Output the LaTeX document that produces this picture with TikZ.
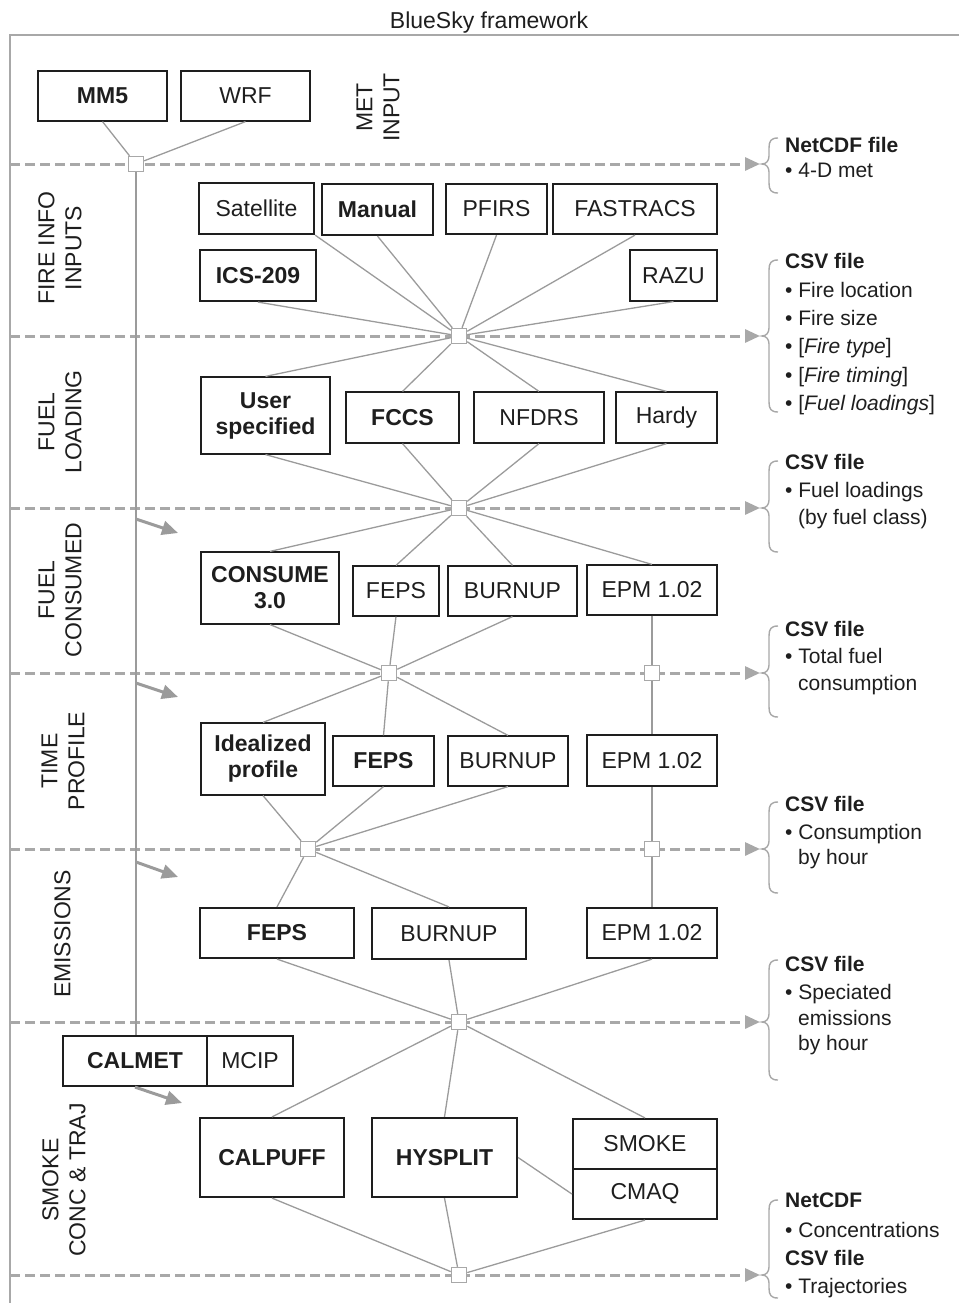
\documentclass[tikz,border=0pt]{standalone}
\usepackage{fontspec}
\setmainfont{Liberation Sans}
\usetikzlibrary{arrows.meta}
\definecolor{lg}{HTML}{9B9B9B}
\definecolor{dg}{HTML}{A8A8A8}
\definecolor{bk}{HTML}{1E1E1E}
\begin{document}
\begin{tikzpicture}[x=1pt,y=-1pt,
 bx/.style={draw=bk, line width=1.2pt, inner sep=0pt, align=center, text=bk, font=\fontsize{23}{26}\selectfont},
 thk/.style={line width=2.2pt},
 bld/.style={font=\fontsize{23}{26}\selectfont\bfseries},
 sz/.style 2 args={minimum width=#1pt, minimum height=#2pt},
 junc/.style={draw=dg, fill=white, line width=1.5pt, minimum size=15pt, inner sep=0pt},
 conn/.style={draw=lg, line width=1.3pt},
 dline/.style={draw=dg, line width=3pt, dash pattern=on 10pt off 5pt, -{Triangle[length=15pt,width=13pt]}},
 darr/.style={draw=lg, line width=3pt, -{Triangle[length=16pt,width=14pt]}},
 brc/.style={draw=dg, line width=1.4pt},
 lbl/.style={rotate=90, align=center, text=bk, font=\fontsize{23}{27}\selectfont, inner sep=0pt},
 rt/.style={anchor=base west, inner sep=0pt, text=bk, font=\fontsize{21}{25}\selectfont},
 rtb/.style={rt, font=\fontsize{21}{25}\selectfont\bfseries},
]
\useasboundingbox (0,0) rectangle (959,1303);
% frame
\draw[draw=dg, line width=1.5pt] (959,35) -- (10,35) -- (10,1303);
\node[anchor=base, inner sep=0pt, text=bk, font=\fontsize{23}{26}\selectfont] (title) at (489,29) {BlueSky framework};

% dashed lines
\foreach \y/\n in {164/1,336/2,508/3,673/4,849/5,1022/6,1275/7}{
  \coordinate (dl\n) at (10,\y);
  \coordinate (dr\n) at (760,\y);
  \draw[dline] (dl\n) -- (dr\n);
}
% braces
\foreach \t/\m/\b in {138/164/193, 260/336/412, 461/508/552, 626/673/717, 802/849/893, 960/1022/1080, 1200/1275/1298}{
  \draw[brc] (778,\t) .. controls (771,\t) and (769,\t+3) .. (769,\t+10) -- (769,\m-8) .. controls (769,\m-3) and (766,\m) .. (762,\m) .. controls (766,\m) and (769,\m+3) .. (769,\m+8) -- (769,\b-10) .. controls (769,\b-3) and (771,\b) .. (778,\b);
}

% section labels
\node[lbl] (lmet) at (378,107.5) {MET\\INPUT};
\node[lbl] (lfire) at (60,248) {FIRE INFO\\INPUTS};
\node[lbl] (lload) at (60,422) {FUEL\\LOADING};
\node[lbl] (lcons) at (60,590) {FUEL\\CONSUMED};
\node[lbl] (ltime) at (63,761) {TIME\\PROFILE};
\node[lbl] (lemis) at (62.5,934) {EMISSIONS};
\node[lbl] (lsmoke) at (64,1180) {SMOKE\\CONC \& TRAJ};

% boxes
\node[bx,bld,sz={129}{50}] (mm5) at (102.5,96) {MM5};
\node[bx,sz={129}{50}] (wrf) at (245.5,96) {WRF};
\node[bx,thk,sz={115}{51}] (sat) at (256.5,208.5) {Satellite};
\node[bx,thk,bld,sz={111}{51}] (man) at (377.5,209.5) {Manual};
\node[bx,thk,sz={101}{50}] (pfi) at (496.5,209) {PFIRS};
\node[bx,thk,sz={164}{50}] (fas) at (635,209) {FASTRACS};
\node[bx,thk,bld,sz={116}{51}] (ics) at (258,275.5) {ICS-209};
\node[bx,sz={87}{51}] (raz) at (673.5,275.5) {RAZU};
\node[bx,bld,sz={129}{77}] (usr) at (265.5,415.5) {User\\specified};
\node[bx,bld,sz={113}{51}] (fcc) at (402.5,417.5) {FCCS};
\node[bx,sz={130}{51}] (nfd) at (539,417.5) {NFDRS};
\node[bx,sz={101}{51}] (har) at (666.5,417.5) {Hardy};
\node[bx,bld,sz={138}{72}] (con) at (270,588) {CONSUME\\3.0};
\node[bx,sz={86}{50}] (fep1) at (396,591) {FEPS};
\node[bx,sz={129}{50}] (bur1) at (512.5,591) {BURNUP};
\node[bx,sz={130}{50}] (epm1) at (652,590) {EPM 1.02};
\node[bx,bld,sz={124}{72}] (ide) at (263,759) {Idealized\\profile};
\node[bx,bld,sz={101}{50}] (fep2) at (383.5,761) {FEPS};
\node[bx,sz={120}{50}] (bur2) at (508,761) {BURNUP};
\node[bx,thk,sz={130}{51}] (epm2) at (652,760.5) {EPM 1.02};
\node[bx,thk,bld,sz={154}{50}] (fep3) at (277,933) {FEPS};
\node[bx,thk,sz={154}{51}] (bur3) at (449,933.5) {BURNUP};
\node[bx,thk,sz={130}{50}] (epm3) at (652,933) {EPM 1.02};
\node[bx,thk,bld,sz={144}{50}] (calm) at (135,1061) {CALMET};
\node[bx,thk,sz={86}{50}] (mcip) at (250,1061) {MCIP};
\node[bx,thk,bld,sz={144}{79}] (calp) at (272,1157.5) {CALPUFF};
\node[bx,thk,bld,sz={145}{79}] (hys) at (444.5,1157.5) {HYSPLIT};
\node[bx,thk,sz={144}{50}] (smk) at (645,1144) {SMOKE};
\node[bx,thk,sz={144}{50}] (cmaq) at (645,1194) {CMAQ};

% junctions
\node[junc] (j0) at (136,164) {};
\node[junc] (j1) at (459,336) {};
\node[junc] (j2) at (459,508) {};
\node[junc] (j3) at (389,673) {};
\node[junc] (j3b) at (652,673) {};
\node[junc] (j4) at (308,849) {};
\node[junc] (j4b) at (652,849) {};
\node[junc] (j5) at (459,1022) {};
\node[junc] (j6) at (459,1275) {};

% connectors
\draw[conn] (mm5.south) -- (j0);
\draw[conn] (wrf.south) -- (j0);
\draw[conn] (j0) -- (j0 |- calm.north);
\draw[conn] (sat.south east) -- (j1);
\draw[conn] (man.south) -- (j1);
\draw[conn] (pfi.south) -- (j1);
\draw[conn] (fas.south) -- (j1);
\draw[conn] (ics.south) -- (j1);
\draw[conn] (raz.south) -- (j1);
\draw[conn] (j1) -- (usr.north);
\draw[conn] (j1) -- (fcc.north);
\draw[conn] (j1) -- (nfd.north);
\draw[conn] (j1) -- (har.north);
\draw[conn] (usr.south) -- (j2);
\draw[conn] (fcc.south) -- (j2);
\draw[conn] (nfd.south) -- (j2);
\draw[conn] (har.south) -- (j2);
\draw[conn] (j2) -- (con.north);
\draw[conn] (j2) -- (fep1.north);
\draw[conn] (j2) -- (bur1.north);
\draw[conn] (j2) -- (epm1.north);
\draw[conn] (con.south) -- (j3);
\draw[conn] (fep1.south) -- (j3);
\draw[conn] (bur1.south) -- (j3);
\draw[conn] (epm1) -- (j3b);
\draw[conn] (j3) -- (ide.north);
\draw[conn] (j3) -- (fep2.north);
\draw[conn] (j3) -- (bur2.north);
\draw[conn] (j3b) -- (epm2);
\draw[conn] (ide.south) -- (j4);
\draw[conn] (fep2.south) -- (j4);
\draw[conn] (bur2.south) -- (j4);
\draw[conn] (epm2) -- (j4b);
\draw[conn] (j4) -- (fep3.north);
\draw[conn] (j4) -- (bur3.north);
\draw[conn] (j4b) -- (epm3);
\draw[conn] (fep3.south) -- (j5);
\draw[conn] (bur3.south) -- (j5);
\draw[conn] (epm3.south) -- (j5);
\draw[conn] (j5) -- (calp.north);
\draw[conn] (j5) -- (hys.north);
\draw[conn] (j5) -- (smk.north);
\draw[conn] (hys.east) -- (cmaq.west);
\draw[conn] (calp.south) -- (j6);
\draw[conn] (hys.south) -- (j6);
\draw[conn] (cmaq.south) -- (j6);

% diagonal arrows
\coordinate (a1s) at (136,519); \coordinate (a1e) at (178,533);
\coordinate (a2s) at (136,683); \coordinate (a2e) at (178,697);
\coordinate (a3s) at (136,862); \coordinate (a3e) at (178,877);
\coordinate (a4e) at (182,1103);
\draw[darr] (a1s) -- (a1e);
\draw[darr] (a2s) -- (a2e);
\draw[darr] (a3s) -- (a3e);
\draw[darr] (calm.south) -- (a4e);

% right texts
\node[rtb] (n1a) at (785,153) {NetCDF file};
\node[rt] (n1b) at (785,177) {• 4-D met};
\node[rtb] (n2a) at (785,268) {CSV file};
\node[rt] (n2b) at (785,297) {• Fire location};
\node[rt] (n2c) at (785,325) {• Fire size};
\node[rt] (n2d) at (785,353) {• [\textit{Fire type}]};
\node[rt] (n2e) at (785,382) {• [\textit{Fire timing}]};
\node[rt] (n2f) at (785,410) {• [\textit{Fuel loadings}]};
\node[rtb] (n3a) at (785,469) {CSV file};
\node[rt] (n3b) at (785,497) {• Fuel loadings};
\node[rt] (n3c) at (798,524) {(by fuel class)};
\node[rtb] (n4a) at (785,636) {CSV file};
\node[rt] (n4b) at (785,663) {• Total fuel};
\node[rt] (n4c) at (798,690) {consumption};
\node[rtb] (n5a) at (785,811) {CSV file};
\node[rt] (n5b) at (785,839) {• Consumption};
\node[rt] (n5c) at (798,864) {by hour};
\node[rtb] (n6a) at (785,971) {CSV file};
\node[rt] (n6b) at (785,999) {• Speciated};
\node[rt] (n6c) at (798,1025) {emissions};
\node[rt] (n6d) at (798,1050) {by hour};
\node[rtb] (n7a) at (785,1207) {NetCDF};
\node[rt] (n7b) at (785,1237) {• Concentrations};
\node[rtb] (n7c) at (785,1265) {CSV file};
\node[rt] (n7d) at (785,1293) {• Trajectories};
\end{tikzpicture}
\end{document}
